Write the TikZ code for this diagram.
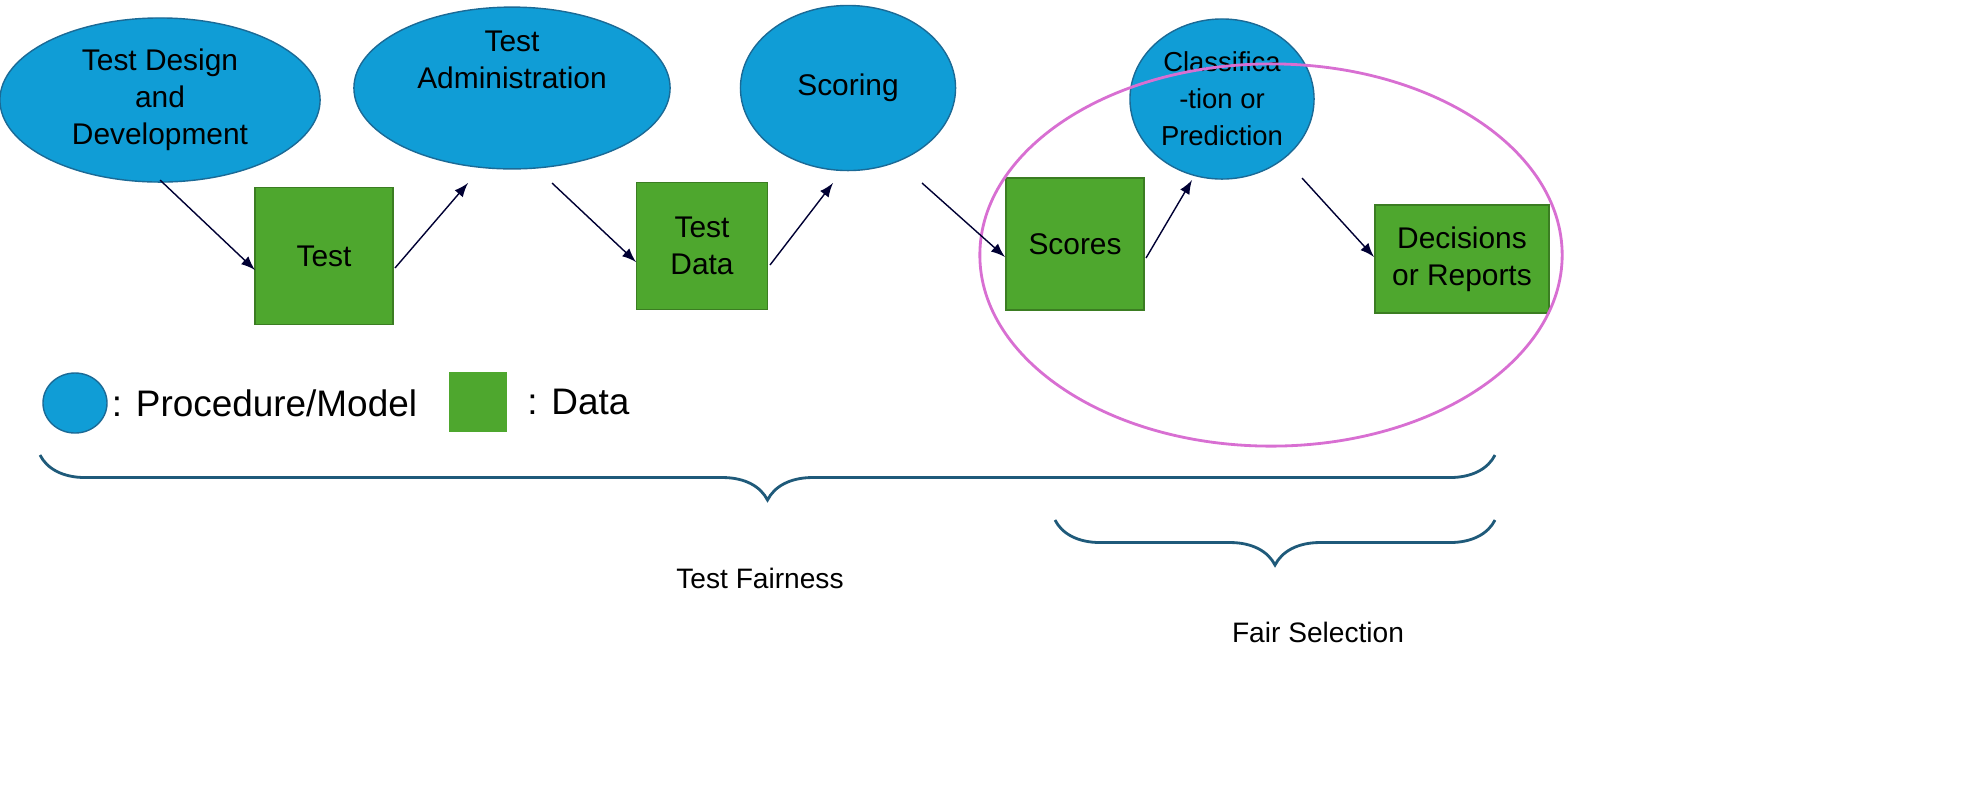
\documentclass[tikz,border=0pt]{standalone}
\usepackage{fontspec}
\setmainfont{Liberation Sans}
\usetikzlibrary{shapes.geometric,decorations.pathreplacing}
\definecolor{procblue}{HTML}{109DD6}
\definecolor{procedge}{HTML}{1B6A96}
\definecolor{datagreen}{HTML}{4EA72E}
\definecolor{dataedge}{HTML}{3B7D22}
\definecolor{selpink}{HTML}{D86FD2}
\definecolor{bracecol}{HTML}{1F5A7A}
\begin{document}
\begin{tikzpicture}[x=0.01cm,y=-0.01cm,
        proc/.style={ellipse, draw=procedge, fill=procblue, align=center,
            inner sep=0pt, font=\fontsize{8.5}{10.5}\selectfont},
        data/.style={rectangle, draw=dataedge, fill=datagreen, align=center,
            inner sep=0pt, font=\fontsize{8.5}{10.5}\selectfont},
        flow/.style={-latex, draw=black!80!blue, thin},
        curly/.style={decorate, decoration={brace, mirror, amplitude=4.5mm},
            draw=bracecol, line width=0.8pt}]
    % procedures
    \node[proc, minimum width=3.2cm, minimum height=1.64cm] (design) at (160,100) {Test Design\\and\\Development};
    \node[proc, minimum width=3.16cm, minimum height=1.56cm] (admin) at (512,88) {Test\\Administration\\[2mm]};
    \node[proc, minimum width=2.15cm, minimum height=1.65cm] (scoring) at (848,88) {Scoring};
    \node[proc, minimum width=1.84cm, minimum height=1.6cm, font=\fontsize{7.8}{10.5}\selectfont] (classify) at (1222,99) {Classifica\\-tion or\\Prediction};
    % data
    \node[data, minimum width=1.38cm, minimum height=1.37cm] (test) at (324,256) {Test};
    \node[data, minimum width=1.31cm, minimum height=1.27cm] (tdata) at (702,246) {Test\\Data};
    \node[data, minimum width=1.38cm, minimum height=1.32cm] (scores) at (1075,244) {Scores};
    \node[data, minimum width=1.74cm, minimum height=1.08cm] (decide) at (1462,259) {Decisions\\or Reports};
    % fair selection region
    \node[ellipse, draw=selpink, thick, minimum width=5.82cm, minimum height=3.82cm] (region) at (1271,255) {};
    % flow
    \coordinate (t1) at (255,270);
    \coordinate (t2) at (636,262);
    \coordinate (t3) at (1005,257);
    \coordinate (t4) at (1374,257);
    \draw[flow] (160,180) -- (t1);
    \draw[flow] (395,268) -- (468,183);
    \draw[flow] (552,183) -- (t2);
    \draw[flow] (770,265) -- (833,183);
    \draw[flow] (922,183) -- (t3);
    \draw[flow] (1146,258) -- (1192,180);
    \draw[flow] (1302,178) -- (t4);
    % legend
    \node[ellipse, draw=procedge, fill=procblue, minimum width=0.64cm, minimum height=0.6cm] (keyproc) at (75,403) {};
    \node[anchor=west, inner sep=1pt, font=\fontsize{10.5}{13}\selectfont] (keyproctxt) at (keyproc.east) {: Procedure/Model};
    \node[rectangle, fill=datagreen, minimum width=0.58cm, minimum height=0.6cm] (keydata) at (478,402) {};
    \node[anchor=west, font=\fontsize{10.5}{13}\selectfont] (keydatatxt) at (515,402) {: Data};
    % braces
    \coordinate (fairL) at (40,455);
    \coordinate (fairR) at (1495,455);
    \coordinate (selL) at (1055,520);
    \coordinate (selR) at (1495,520);
    \draw[curly] (fairL) -- (fairR);
    \draw[curly] (selL) -- (selR);
    \node[font=\fontsize{8}{10}\selectfont] (fairtxt) at (760,578) {Test Fairness};
    \node[font=\fontsize{8}{10}\selectfont] (seltxt) at (1318,632) {Fair Selection};
    \pgfresetboundingbox
    \useasboundingbox (0,0) rectangle (1973,811);
\end{tikzpicture}
\end{document}
